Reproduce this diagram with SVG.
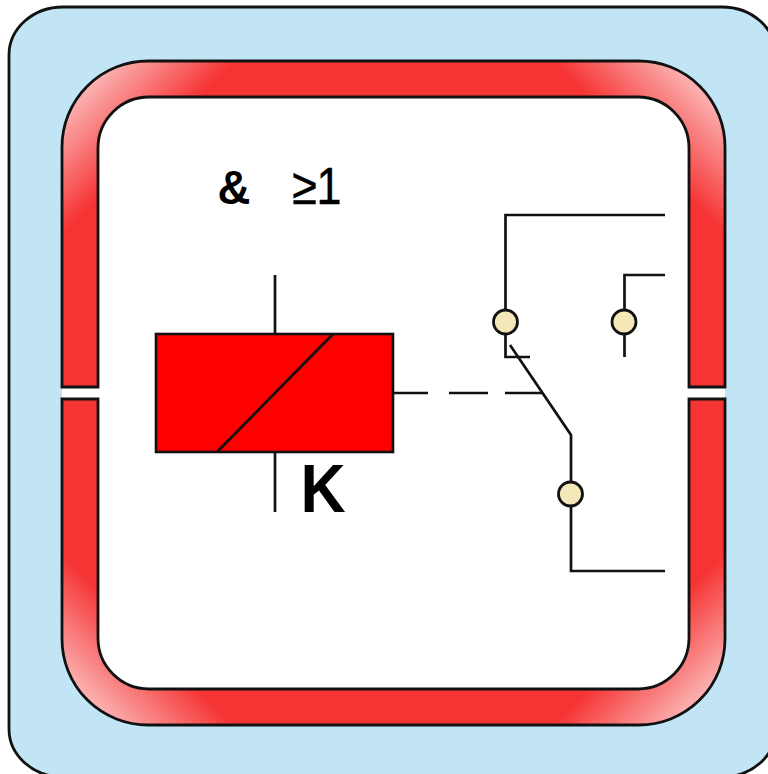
<svg xmlns="http://www.w3.org/2000/svg" width="768" height="774" viewBox="0 0 768 774">
<style>
.ln{fill:none;stroke:#111;stroke-width:2.7}
.ol{fill:none;stroke:#111;stroke-width:2.8;stroke-linejoin:miter}
.ct{fill:#f5e8b8;stroke:#111;stroke-width:2.8}
.t{font-family:"Liberation Sans",Arial,sans-serif;fill:#000}
</style>
<defs>
<linearGradient id="gTL" gradientUnits="userSpaceOnUse" x1="78" y1="78" x2="148" y2="148"><stop offset="0" stop-color="#fcc6c6"/><stop offset="1" stop-color="#f63434"/></linearGradient>
<linearGradient id="gTR" gradientUnits="userSpaceOnUse" x1="709" y1="78" x2="639" y2="148"><stop offset="0" stop-color="#fcc6c6"/><stop offset="1" stop-color="#f63434"/></linearGradient>
<linearGradient id="gBL" gradientUnits="userSpaceOnUse" x1="78" y1="709" x2="148" y2="639"><stop offset="0" stop-color="#fcc6c6"/><stop offset="1" stop-color="#f63434"/></linearGradient>
<linearGradient id="gBR" gradientUnits="userSpaceOnUse" x1="709" y1="709" x2="639" y2="639"><stop offset="0" stop-color="#fcc6c6"/><stop offset="1" stop-color="#f63434"/></linearGradient>
</defs>
<rect width="768" height="774" fill="#fff"/>
<g id="housing">
<rect x="9" y="7" width="767" height="770" rx="54" ry="48" fill="#c1e5f4" stroke="#111" stroke-width="2.8"/>
<rect x="62" y="61" width="663" height="664" rx="86" fill="#fff"/>
</g>
<g id="ring">
<path fill="url(#gTL)" d="M62 387V147A86 86 0 0 1 148 61H394V97H149A51 51 0 0 0 98 148V387Z"/>
<path fill="url(#gTR)" d="M725 387V147A86 86 0 0 0 639 61H393V97H638A51 51 0 0 1 689 148V387Z"/>
<path fill="url(#gBL)" d="M62 399V639A86 86 0 0 0 148 725H394V689H149A51 51 0 0 1 98 638V399Z"/>
<path fill="url(#gBR)" d="M725 399V639A86 86 0 0 1 639 725H393V689H638A51 51 0 0 0 689 638V399Z"/>
<path class="ol" d="M62 387V147A86 86 0 0 1 148 61H639A86 86 0 0 1 725 147V387H689V148A51 51 0 0 0 638 97H149A51 51 0 0 0 98 148V387Z"/>
<path class="ol" d="M62 399V639A86 86 0 0 0 148 725H639A86 86 0 0 0 725 639V399H689V638A51 51 0 0 1 638 689H149A51 51 0 0 1 98 638V399Z"/>
</g>
<g id="connectors">
<path class="ln" d="M275 275V334M275 452V512"/>
<path class="ln" d="M393 393H428M449 393H488M505 393H543"/>
<path class="ln" d="M665 215H505.500V357H530"/>
<path class="ln" d="M665 275H624.500V357"/>
<path class="ln" d="M510 345L571 435V571H665"/>
</g>
<g id="coil">
<rect x="156" y="334" width="237" height="118" fill="#fe0000" stroke="#111" stroke-width="2.600"/>
<path class="ln" d="M333 334L217 452"/>
</g>
<g id="contact-1"><circle class="ct" cx="505.500" cy="322" r="12"/></g>
<g id="contact-2"><circle class="ct" cx="624" cy="322" r="12"/></g>
<g id="contact-3"><circle class="ct" cx="570.500" cy="494" r="12"/></g>
<g id="labels">
<text class="t" transform="translate(217.500 204) scale(.95 1)" font-size="48" font-weight="700">&amp;</text>
<text class="t" transform="translate(292 204) scale(.88 1)" font-size="51" stroke="#000" stroke-width=".5">≥1</text>
<text class="t" transform="translate(300.500 512) scale(.92 1)" font-size="68" font-weight="700">K</text>
</g>
</svg>
